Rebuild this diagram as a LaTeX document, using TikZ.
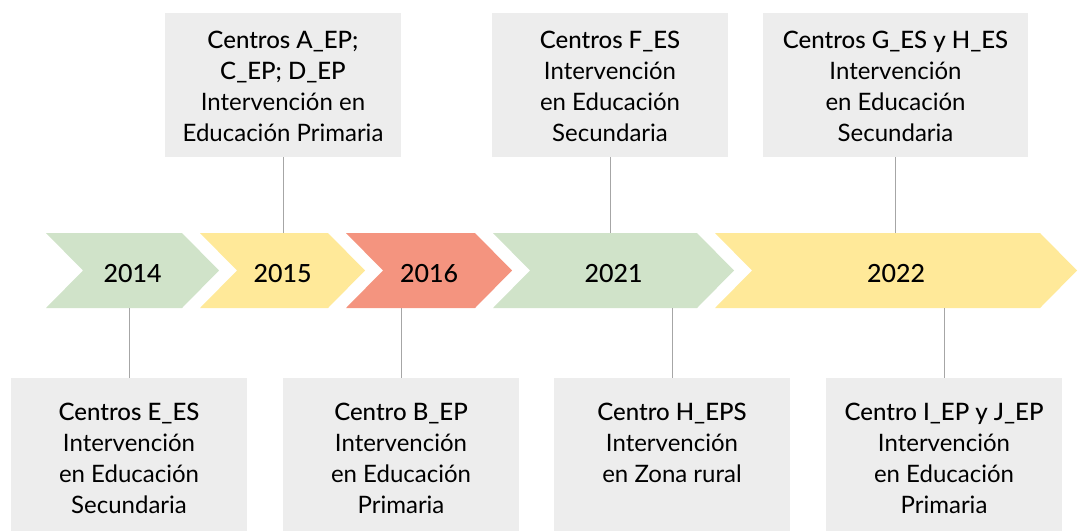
\documentclass[tikz,border=0pt]{standalone}
\usepackage{fontspec}
\setmainfont{Lato}
\newfontfamily\titlefont{Lato Medium}
\usetikzlibrary{positioning}

\definecolor{verde}{HTML}{D0E3C9}
\definecolor{amarillo}{HTML}{FFE999}
\definecolor{salmon}{HTML}{F4947F}
\definecolor{gris}{HTML}{EDEDED}
\definecolor{linea}{HTML}{A6A6A6}

% chevron: left x, tip x, colour
\newcommand{\flecha}[3]{%
  \fill[#3] (#1,233) -- ({#2-37},233) -- (#2,270.5) -- ({#2-37},308) -- (#1,308) -- ({#1+37},270.5) -- cycle;}
% year text, a little lower than the middle
\newcommand{\anyo}[1]{\raisebox{-3pt}[\height][\depth]{#1}}

\tikzset{
  anio/.style={minimum height=75pt, inner sep=0pt, font=\titlefont\fontsize{25}{30}\selectfont},
  caja/.style={fill=gris, inner sep=0pt},
  texto/.style={align=center, inner sep=0pt, font=\fontsize{24}{31}\selectfont},
  enlace/.style={draw=linea, line width=1pt}
}

\begin{document}
\begin{tikzpicture}[x=1pt,y=-1pt]
  \useasboundingbox (0,0) rectangle (1078,531);

  % flechas
  \flecha{46}{219}{verde}
  \flecha{200}{365}{amarillo}
  \flecha{346}{512}{salmon}
  \flecha{493}{734}{verde}
  \flecha{715}{1077}{amarillo}

  \node[anio] (a2014) at (132.5,270.5) {\anyo{2014}};
  \node[anio] (a2015) at (282.5,270.5) {\anyo{2015}};
  \node[anio] (a2016) at (429,270.5) {\anyo{2016}};
  \node[anio] (a2021) at (613.5,270.5) {\anyo{2021}};
  \node[anio] (a2022) at (896,270.5) {\anyo{2022}};

  % cajas de arriba
  \node[caja, minimum width=236pt, minimum height=144pt] (cA) at (283,85) {};
  \node[caja, minimum width=236pt, minimum height=144pt] (cF) at (610,85) {};
  \node[caja, minimum width=265pt, minimum height=144pt] (cG) at (895.5,85) {};

  \node[texto] (tA) at ([yshift=-1pt]cA) {{\titlefont Centros A\_EP;}\\{\titlefont C\_EP; D\_EP}\\Intervención en\\Educación Primaria};
  \node[texto] (tF) at ([yshift=-1pt]cF) {{\titlefont Centros F\_ES}\\Intervención\\en Educación\\Secundaria};
  \node[texto] (tG) at ([yshift=-1pt]cG) {{\titlefont Centros G\_ES y H\_ES}\\Intervención\\en Educación\\Secundaria};

  % cajas de abajo
  \node[caja, minimum width=236pt, minimum height=153pt] (cE) at (129,454.5) {};
  \node[caja, minimum width=236pt, minimum height=153pt] (cB) at (401,454.5) {};
  \node[caja, minimum width=236pt, minimum height=153pt] (cH) at (672,454.5) {};
  \node[caja, minimum width=236pt, minimum height=153pt] (cI) at (944,454.5) {};

  \node[texto, anchor=north] (tE) at ([yshift=-25pt]cE.north) {{\titlefont Centros E\_ES}\\Intervención\\en Educación\\Secundaria};
  \node[texto, anchor=north] (tB) at ([yshift=-25pt]cB.north) {{\titlefont Centro B\_EP}\\Intervención\\en Educación\\Primaria};
  \node[texto, anchor=north] (tH) at ([yshift=-25pt]cH.north) {{\titlefont Centro H\_EPS}\\Intervención\\en Zona rural};
  \node[texto, anchor=north] (tI) at ([yshift=-25pt]cI.north) {{\titlefont Centro I\_EP y J\_EP}\\Intervención\\en Educación\\Primaria};

  % enlaces
  \draw[enlace] (cA.south) -- (cA.south |- a2015.north);
  \draw[enlace] (cF.south) -- (cF.south |- a2021.north);
  \draw[enlace] (cG.south) -- (cG.south |- a2022.north);
  \draw[enlace] (cE.north) -- (cE.north |- a2014.south);
  \draw[enlace] (cB.north) -- (cB.north |- a2016.south);
  \draw[enlace] (cH.north) -- (cH.north |- a2021.south);
  \draw[enlace] (cI.north) -- (cI.north |- a2022.south);
\end{tikzpicture}
\end{document}
